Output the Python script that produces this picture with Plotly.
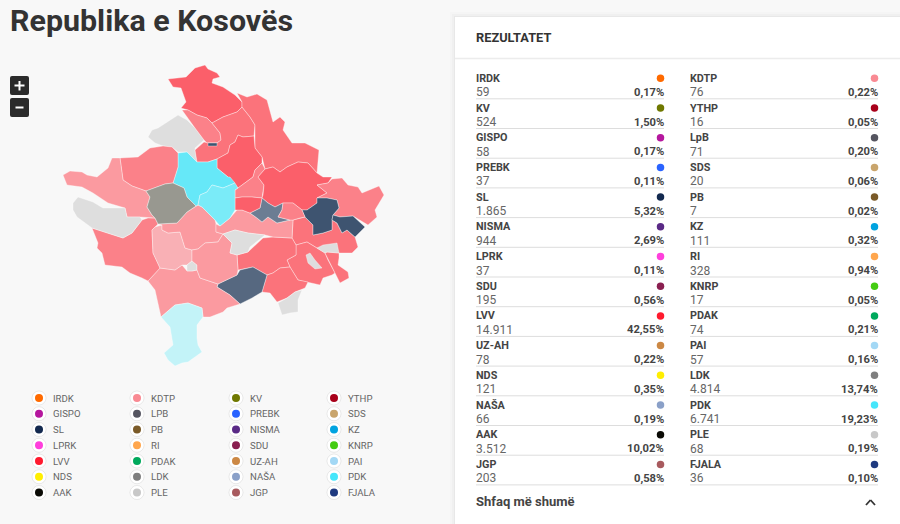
"""Kosovo election results page: municipality map, legend and results panel."""

import plotly.graph_objects as go

TITLE = "Republika e Kosovës"

parties = ["IRDK", "KDTP", "KV", "YTHP", "GISPO", "LpB", "PREBK", "SDS", "SL", "PB",
           "NISMA", "KZ", "LPRK", "RI", "SDU", "KNRP", "LVV", "PDAK", "UZ-AH", "PAI",
           "NDS", "LDK", "NAŠA", "PDK", "AAK", "PLE", "JGP", "FJALA"]
votes = ["59", "76", "524", "16", "58", "71", "37", "20", "1.865", "7",
         "944", "111", "37", "328", "195", "17", "14.911", "74", "78", "57",
         "121", "4.814", "66", "6.741", "3.512", "68", "203", "36"]
shares = ["0,17%", "0,22%", "1,50%", "0,05%", "0,17%", "0,20%", "0,11%", "0,06%", "5,32%", "0,02%",
          "2,69%", "0,32%", "0,11%", "0,94%", "0,56%", "0,05%", "42,55%", "0,21%", "0,22%", "0,16%",
          "0,35%", "13,74%", "0,19%", "19,23%", "10,02%", "0,19%", "0,58%", "0,10%"]
party_colors = ["#ff6a00", "#f98a93", "#6f7800", "#a8001a", "#b5179e", "#555560", "#2a63ff", "#c9a56c",
                "#13294f", "#7a5a28", "#5a2a86", "#00a3e0", "#ff3fdc", "#ffa64d", "#8a1f50", "#44cc11",
                "#ff1a2e", "#00a95c", "#cc8844", "#a3d8f5", "#ffee00", "#7f7f7f", "#8aa0c8", "#45e6fb",
                "#0a0a05", "#c8c8c8", "#a85a5e", "#1f3a80"]

STRONG = "#fb5f6a"
RED = "#fb737b"
CORAL = "#fb8189"
PINK = "#fb9aa0"
PALE = "#f9b0b5"
GREY = "#dedede"
NAVY = "#3e5470"
SLATE = "#566880"
STEEL = "#6c7d93"
CYAN = "#66e8f8"
CYAN2 = "#7aebf8"
ICE = "#c3f3f8"
OLIVE = "#989890"

municipalities = [
    (STRONG, [(168,79),(186,77),(195,68),(205,65),(208,69),(217,73),(220,77),(213,79),(212,83),(223,87),(235,95),(242,102),(242,107),(237,112),(223,117),(212,123),(207,118),(197,115),(188,110),(181,108),(186,102),(181,88),(173,87)]),
    (GREY, [(148,137),(152,130),(158,128),(167,122),(178,115),(187,120),(195,128),(204,140),(195,148),(195,150),(197,162),(187,152),(178,152),(172,147),(163,146),(155,143)]),
    (CORAL, [(182,110),(188,110),(197,115),(207,118),(212,123),(220,133),(221,140),(217,143),(207,143),(204,140),(195,128),(188,118)]),
    (RED, [(212,123),(223,117),(237,112),(242,107),(250,117),(255,125),(254,136),(243,137),(238,135),(235,142),(230,145),(228,153),(217,159),(208,162),(197,162),(195,150),(204,142),(208,143),(217,143),(221,140),(220,133)]),
    (NAVY, [(208,143),(217,143),(217,146),(208,146)]),
    (RED, [(237,93),(247,97),(257,94),(267,100),(273,122),(280,117),(285,122),(283,130),(292,143),(305,143),(319,150),(317,173),(308,163),(298,162),(287,167),(280,172),(273,167),(265,169),(262,157),(255,148),(255,125),(250,117),(242,107),(242,102)]),
    (STRONG, [(238,135),(243,137),(254,136),(255,148),(262,157),(262,163),(255,170),(253,177),(238,188),(228,177),(217,168),(217,159),(228,153),(230,145),(235,142)]),
    (CORAL, [(255,170),(262,163),(265,169),(258,177),(264,185),(263,195),(262,198),(252,197),(242,197),(235,198),(235,190),(238,188),(253,177)]),
    (STRONG, [(265,169),(273,167),(280,172),(287,167),(298,162),(308,163),(317,173),(323,177),(332,177),(328,183),(317,185),(327,193),(317,198),(317,203),(307,210),(302,210),(293,203),(283,203),(275,207),(268,203),(262,198),(263,195),(264,185),(258,177)]),
    (CORAL, [(317,185),(328,183),(332,179),(342,178),(348,185),(358,187),(362,193),(379,186),(384,195),(375,210),(377,217),(368,225),(353,216),(340,217),(333,215),(339,208),(337,200),(327,198),(317,198),(327,193)]),
    (RED, [(293,220),(300,218),(305,217),(313,225),(313,235),(323,233),(332,230),(332,220),(337,223),(342,233),(347,230),(355,237),(358,247),(352,253),(339,253),(327,252),(325,253),(317,248),(307,242),(296,245),(292,238)]),
    (NAVY, [(302,210),(307,210),(317,203),(317,198),(327,198),(337,200),(339,208),(333,215),(332,220),(332,230),(323,233),(313,235),(313,225),(305,217)]),
    (NAVY, [(332,220),(333,215),(340,217),(353,216),(365,227),(355,237),(347,230),(342,233),(337,223)]),
    (RED, [(307,242),(317,248),(325,253),(328,260),(335,273),(332,275),(323,278),(320,285),(308,282),(298,280),(290,267),(287,260),(296,255),(296,245)]),
    (GREY, [(306,255),(310,253),(315,260),(322,268),(315,269),(308,263)]),
    (RED, [(325,253),(327,252),(339,253),(339,258),(338,265),(348,272),(349,278),(340,283),(335,273),(328,260)]),
    (GREY, [(317,248),(323,245),(337,243),(339,253),(327,252),(325,253)]),
    (RED, [(237,255),(248,252),(263,238),(273,237),(292,238),(296,245),(296,255),(287,260),(290,267),(280,268),(273,273),(267,275),(253,267),(240,270),(238,270)]),
    (RED, [(262,292),(267,275),(273,273),(280,268),(290,267),(298,280),(308,282),(305,288),(295,292),(287,298),(277,302),(270,293)]),
    (GREY, [(278,303),(287,298),(295,292),(302,290),(298,300),(298,312),(290,313),(282,315)]),
    (SLATE, [(217,287),(218,284),(237,275),(240,270),(253,267),(267,275),(262,292),(252,298),(240,304),(230,295)]),
    (PINK, [(148,281),(160,268),(168,269),(175,270),(182,265),(187,271),(192,271),(197,270),(200,278),(218,284),(217,287),(230,295),(240,304),(227,308),(223,312),(210,317),(203,317),(202,308),(188,303),(175,305),(161,317),(155,290)]),
    (ICE, [(161,317),(175,305),(188,303),(202,308),(203,317),(197,325),(197,338),(198,345),(202,352),(188,362),(182,363),(175,366),(168,360),(164,353),(173,345),(170,327)]),
    (CORAL, [(92,228),(123,238),(132,233),(142,220),(148,218),(155,218),(158,224),(155,227),(152,230),(153,253),(160,268),(148,281),(142,278),(130,273),(122,267),(105,265),(102,253),(97,248),(98,243)]),
    (PALE, [(155,227),(162,225),(162,230),(168,233),(180,232),(185,248),(192,250),(192,261),(187,265),(182,265),(175,270),(168,269),(160,268),(153,253),(152,230)]),
    (GREY, [(187,265),(192,261),(197,265),(197,270),(192,271),(187,271)]),
    (PINK, [(158,224),(177,223),(187,212),(196,206),(198,205),(202,207),(208,213),(215,220),(216,224),(216,232),(223,234),(218,242),(205,243),(198,249),(192,250),(185,248),(180,232),(168,233),(162,230),(162,225)]),
    (PINK, [(192,250),(198,249),(205,243),(218,242),(223,234),(232,243),(230,253),(237,255),(238,270),(237,275),(218,284),(200,278),(197,270),(197,265),(192,261)]),
    (PINK, [(216,224),(220,226),(230,218),(237,210),(242,210),(250,213),(257,218),(262,222),(268,217),(277,223),(290,220),(293,220),(292,238),(273,237),(265,235),(248,233),(235,230),(223,234),(216,232)]),
    (GREY, [(223,234),(235,230),(248,233),(265,235),(250,247),(248,252),(237,255),(230,253),(232,243)]),
    (STEEL, [(250,213),(260,208),(262,198),(268,203),(275,207),(283,203),(282,210),(278,217),(290,220),(277,223),(268,217),(262,222),(257,218)]),
    (CORAL, [(283,203),(293,203),(302,210),(305,217),(300,218),(293,220),(290,220),(278,217),(282,210)]),
    (STRONG, [(235,198),(242,197),(252,197),(262,198),(260,208),(250,213),(242,210),(237,210),(235,210)]),
    (CYAN, [(178,153),(187,152),(197,162),(208,162),(217,159),(217,168),(228,177),(230,177),(235,183),(223,188),(212,185),(207,192),(200,195),(198,205),(196,206),(187,197),(184,188),(173,183),(178,167)]),
    (CYAN2, [(200,195),(207,192),(212,185),(223,188),(235,183),(238,188),(235,190),(235,198),(235,210),(230,218),(220,226),(215,220),(208,213),(202,207),(198,205)]),
    (CORAL, [(120,158),(138,157),(150,148),(163,146),(172,147),(178,153),(178,167),(173,183),(165,184),(146,191),(132,186),(123,180)]),
    (PINK, [(63,175),(70,171),(82,172),(87,175),(97,177),(108,168),(112,158),(120,158),(123,180),(132,186),(146,191),(150,197),(147,207),(152,215),(155,218),(140,217),(127,217),(125,208),(108,203),(93,193),(82,187),(67,185)]),
    (OLIVE, [(146,191),(165,184),(173,183),(184,188),(187,197),(196,206),(187,212),(177,223),(158,224),(155,218),(152,215),(147,207),(150,197)]),
    (GREY, [(73,203),(78,197),(93,202),(103,208),(125,208),(127,217),(140,217),(142,220),(132,233),(123,238),(92,228),(77,217),(73,210)]),
]

FONT = "Roboto"
DARK = "#333333"
MUTED = "#666666"

fig = go.Figure()

for color, outline in municipalities:
    xs = [p[0] for p in outline] + [outline[0][0]]
    ys = [p[1] for p in outline] + [outline[0][1]]
    fig.add_trace(go.Scatter(x=xs, y=ys, mode="lines", fill="toself", fillcolor=color,
                             line=dict(color="rgba(255,255,255,0.6)", width=0.6)))

shapes = []
annotations = []


def label(x, y, text, size, color=DARK, weight=400, anchor="left"):
    # annotations carry about 2px of padding, so shift to land on the text edge
    annotations.append(dict(x=x - 2 if anchor == "left" else x + 2, y=y, text=text, xref="x", yref="y",
                            showarrow=False, xanchor=anchor, yanchor="middle",
                            font=dict(family=FONT, size=size, color=color, weight=weight)))


def rule(x0, y0, x1, y1, color, width=1):
    shapes.append(dict(type="line", x0=x0, y0=y0, x1=x1, y1=y1, line=dict(color=color, width=width), layer="below"))


# title and zoom buttons
label(10, 20, TITLE, 30.4, weight=700)
for top in (76, 98):
    path = (f"M 12 {top} L 27 {top} Q 29 {top} 29 {top + 2} L 29 {top + 17} Q 29 {top + 19} 27 {top + 19} "
            f"L 12 {top + 19} Q 10 {top + 19} 10 {top + 17} L 10 {top + 2} Q 10 {top} 12 {top} Z")
    shapes.append(dict(type="path", path=path, fillcolor="#2b2b2b", line=dict(width=0), layer="above"))
for x0, y0, x1, y1 in [(14.5, 85.5, 24.5, 85.5), (19.5, 81, 19.5, 90.5), (15.5, 107.5, 23.5, 107.5)]:
    shapes.append(dict(type="line", x0=x0, y0=y0, x1=x1, y1=y1, line=dict(color="white", width=2), layer="above"))

# legend, four columns
LEGEND_X = [39, 137, 236, 334]
legend_xs, legend_ys = [], []
for i, name in enumerate(parties):
    x = LEGEND_X[i % 4]
    y = 398 + 15.75 * (i // 4)
    legend_xs.append(x)
    legend_ys.append(y)
    label(x + 14, y, name.upper(), 9.6, color=MUTED)
fig.add_trace(go.Scatter(x=legend_xs, y=legend_ys, mode="markers",
                         marker=dict(size=14, color="white", line=dict(color="rgba(0,0,0,0.08)", width=1))))
fig.add_trace(go.Scatter(x=legend_xs, y=legend_ys, mode="markers",
                         marker=dict(size=8, color=party_colors, line=dict(width=0))))

# results panel
for grow, alpha in [(5, 0.012), (3, 0.02), (1, 0.03)]:
    shapes.append(dict(type="rect", x0=455 - grow, y0=17 - grow, x1=910, y1=540, fillcolor=f"rgba(0,0,0,{alpha})",
                       line=dict(width=0), layer="below"))
shapes.append(dict(type="rect", x0=455, y0=17, x1=910, y1=540, fillcolor="white", line=dict(width=0), layer="below"))
rule(455, 58.5, 900, 58.5, "#ececec", 1.5)
label(476, 37, "REZULTATET", 12.8, weight=700)

COLUMN_X = [476, 690]
ROW_STEP = 29.7
dot_xs, dot_ys = [], []
for i, name in enumerate(parties):
    left = COLUMN_X[i % 2]
    right = left + 188
    top = 78.3 + ROW_STEP * (i // 2)
    label(left, top, name, 10.8, weight=700, color="#444444")
    label(left, top + 14, votes[i], 12, color=MUTED)
    label(right, top + 14, shares[i], 11.2, weight=700, color="#444444", anchor="right")
    rule(left, top + 20.5, right, top + 20.5, "#dddddd")
    dot_xs.append(right - 3.5)
    dot_ys.append(top)
fig.add_trace(go.Scatter(x=dot_xs, y=dot_ys, mode="markers",
                         marker=dict(size=7.5, color=party_colors, line=dict(width=0))))

label(476, 501, "Shfaq më shumë", 13, weight=700, color="#444444")
for x0, y0, x1, y1 in [(866, 505, 870.5, 500), (870.5, 500, 875, 505)]:
    shapes.append(dict(type="line", x0=x0, y0=y0, x1=x1, y1=y1, line=dict(color=DARK, width=1.8), layer="above"))

fig.update_layout(
    width=900,
    height=524,
    margin=dict(l=0, r=0, t=0, b=0),
    paper_bgcolor="#f8f8f8",
    plot_bgcolor="#f8f8f8",
    showlegend=False,
    hovermode=False,
    shapes=shapes,
    annotations=annotations,
    xaxis=dict(range=[0, 900], visible=False, fixedrange=True),
    yaxis=dict(range=[524, 0], visible=False, fixedrange=True),
)

fig.write_html("out.html", config={"displayModeBar": False},
               post_script="document.body.style.margin='0';document.body.style.background='#f8f8f8';")
